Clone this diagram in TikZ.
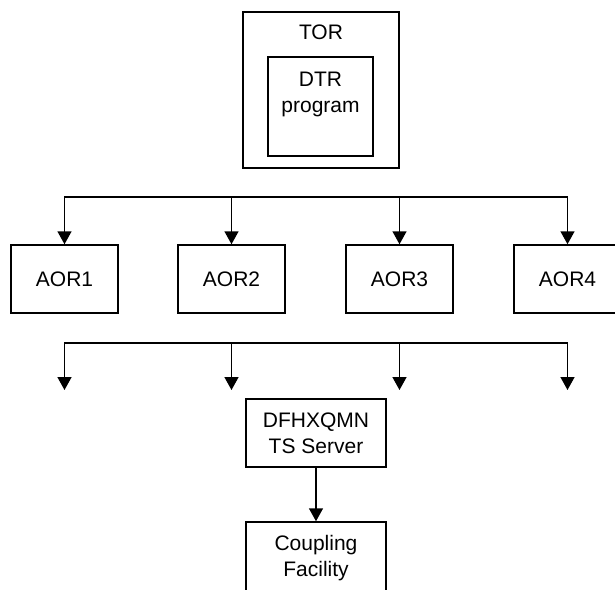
\documentclass[tikz,border=0pt]{standalone}
\usepackage{fontspec}
\setmainfont{Liberation Sans}
\usetikzlibrary{arrows.meta}
\tikzset{
  box/.style={draw,line width=1.5pt,inner sep=0pt,align=center},
  bus/.style={line width=1.5pt,line cap=rect},
  feed/.style={line width=1.5pt,-{Triangle[length=13pt,width=14pt]}},
}
\begin{document}
\begin{tikzpicture}[x=1pt,y=-1pt,font=\fontsize{21}{26}\selectfont]
  \clip (0,0) rectangle (615,589);
  % terminal owning region with the routing program
  \node[box,minimum width=156pt,minimum height=156pt] (tor) at (321,90) {};
  \node[inner sep=0pt,anchor=base] (tortext) at (321,39) {TOR};
  \node[box,minimum width=105pt,minimum height=99pt] (dtr) at (320.5,106.5) {};
  \node[inner sep=0pt,anchor=north,align=center] (dtrtext) at (320.5,72) {DTR\\program};
  % application owning regions
  \foreach \i/\x in {1/64.5,2/231.5,3/399.5,4/567.5} {
    \node[box,minimum width=107pt,minimum height=68pt] (aor\i) at (\x,279) {AOR\i};
    \coordinate (top\i) at (\x,197);
    \coordinate (low\i) at (\x,343);
    \coordinate (tip\i) at (\x,390);
    \draw[feed] (top\i) -- (aor\i.north);
    \draw[feed] (low\i) -- (tip\i);
  }
  \draw[bus] (top1) -- (top4);
  \draw[bus] (low1) -- (low4);
  % queue server and coupling facility
  \node[box,minimum width=140pt,minimum height=68pt] (srv) at (316,433) {DFHXQMN\\TS Server};
  \node[box,minimum width=140pt,minimum height=72pt] (cf) at (316,558) {Coupling\\Facility};
  \draw[feed] (srv) -- (cf);
\end{tikzpicture}
\end{document}
